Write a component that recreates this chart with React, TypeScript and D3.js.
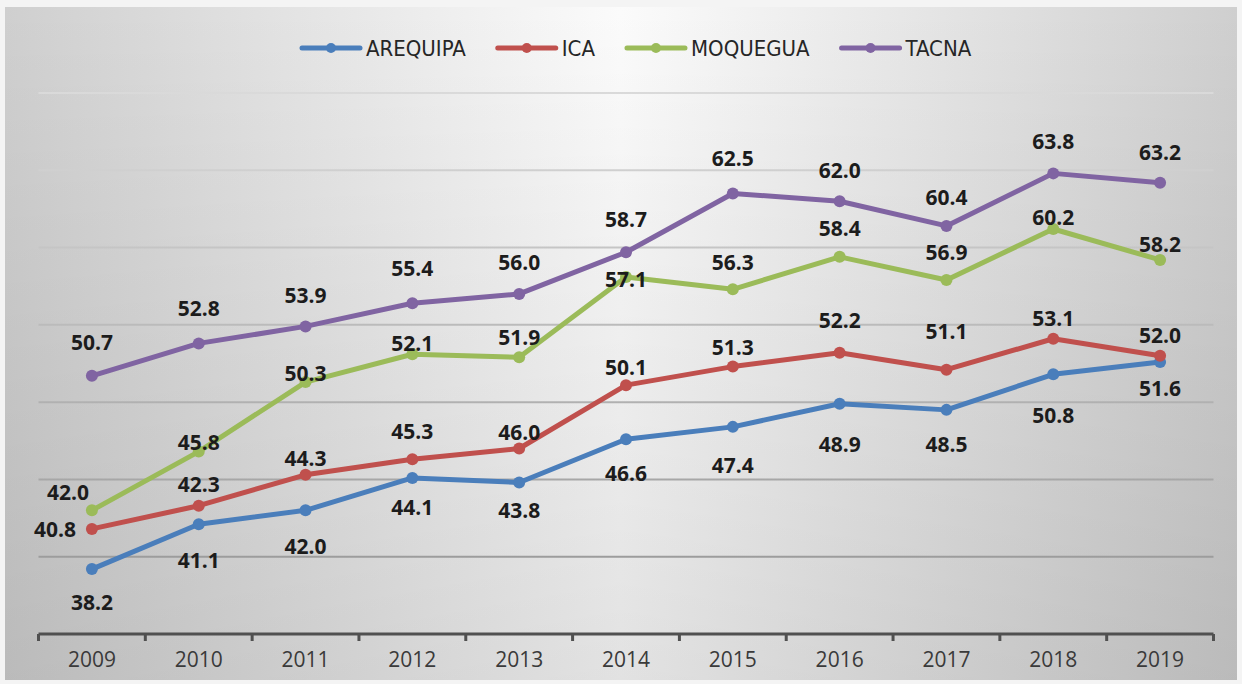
import React, { useRef, useEffect } from "react";
import * as d3 from "d3";

// ---- data ----
const YEARS = ["2009", "2010", "2011", "2012", "2013", "2014", "2015", "2016", "2017", "2018", "2019"];
const AREQUIPA = [38.2, 41.1, 42.0, 44.1, 43.8, 46.6, 47.4, 48.9, 48.5, 50.8, 51.6];
const ICA = [40.8, 42.3, 44.3, 45.3, 46.0, 50.1, 51.3, 52.2, 51.1, 53.1, 52.0];
const MOQUEGUA = [42.0, 45.8, 50.3, 52.1, 51.9, 57.1, 56.3, 58.4, 56.9, 60.2, 58.2];
const TACNA = [50.7, 52.8, 53.9, 55.4, 56.0, 58.7, 62.5, 62.0, 60.4, 63.8, 63.2];
const Y_TICKS = [34, 39, 44, 49, 54, 59, 64, 69];

const SERIES = [
  { name: "AREQUIPA", values: AREQUIPA, color: "#4a7ebb" },
  { name: "ICA", values: ICA, color: "#c0504d" },
  { name: "MOQUEGUA", values: MOQUEGUA, color: "#9bbb59" },
  { name: "TACNA", values: TACNA, color: "#8064a2" },
];

// hand-placed data label nudges (px from the marker), like the dragged Excel labels
const LABEL_DY: Record<string, number[]> = {
  AREQUIPA: [33, 36, 36, 29, 27, 34, 38, 40, 34, 41, 26],
  ICA: [0, -22, -17, -28, -17, -18, -20, -33, -39, -21, -21],
  MOQUEGUA: [-18, -10, -9, -11, -20, 2, -27, -29, -28, -12, -16],
  TACNA: [-34, -35, -31, -35, -32, -33, -35, -31, -29, -32, -31],
};
const LABEL_DX: Record<string, number[]> = {
  ICA: [-37, 0, 0, 0, 0, 0, 0, 0, 0, 0, 0],
  MOQUEGUA: [-24, 0, 0, 0, 0, 0, 0, 0, 0, 0, 0],
};

const W = 1242;
const H = 684;

export default function App() {
  const ref = useRef<SVGSVGElement | null>(null);

  useEffect(() => {
    const svg = d3.select(ref.current);
    svg.selectAll("*").remove();

    const defs = svg.append("defs");
    const hg = defs.append("linearGradient").attr("id", "bgH").attr("x1", 0).attr("x2", 1).attr("y1", 0).attr("y2", 0);
    hg.append("stop").attr("offset", "0%").attr("stop-color", "#cfcfcf");
    hg.append("stop").attr("offset", "50%").attr("stop-color", "#fbfbfb");
    hg.append("stop").attr("offset", "100%").attr("stop-color", "#cfcfcf");
    const vg = defs.append("linearGradient").attr("id", "bgV").attr("x1", 0).attr("x2", 0).attr("y1", 0).attr("y2", 1);
    vg.append("stop").attr("offset", "0%").attr("stop-color", "#000").attr("stop-opacity", 0);
    vg.append("stop").attr("offset", "100%").attr("stop-color", "#000").attr("stop-opacity", 0.1);
    const gg = defs
      .append("linearGradient")
      .attr("id", "gridG")
      .attr("gradientUnits", "userSpaceOnUse")
      .attr("x1", 0).attr("x2", 0).attr("y1", 90).attr("y2", 560);
    gg.append("stop").attr("offset", "0%").attr("stop-color", "#dadada");
    gg.append("stop").attr("offset", "100%").attr("stop-color", "#9c9c9c");

    svg.append("rect").attr("width", W).attr("height", H).attr("fill", "#f4f4f4");
    svg.append("rect").attr("x", 5).attr("y", 7).attr("width", 1232).attr("height", 673).attr("fill", "url(#bgH)");
    svg.append("rect").attr("x", 5).attr("y", 7).attr("width", 1232).attr("height", 673).attr("fill", "url(#bgV)");

    const x = d3.scaleBand().domain(YEARS).range([38.5, 1213.5]);
    const y = d3.scaleLinear().domain([34, 69]).range([634, 93]);
    const cx = (yr: string) => (x(yr) as number) + x.bandwidth() / 2;

    // gridlines
    svg
      .append("g")
      .selectAll("line")
      .data(Y_TICKS.slice(1))
      .join("line")
      .attr("x1", 38.5)
      .attr("x2", 1213.5)
      .attr("y1", (d) => y(d))
      .attr("y2", (d) => y(d))
      .attr("stroke", "url(#gridG)")
      .attr("stroke-width", 2);

    // x axis
    const axis = svg
      .append("g")
      .attr("transform", `translate(0, ${y(34)})`)
      .call(d3.axisBottom(x).tickSize(0).tickPadding(18));
    axis.select(".domain").remove();
    axis
      .selectAll("text")
      .attr("font-family", "'Open Sans', sans-serif")
      .attr("font-size", "21px")
      .attr("fill", "#3a3a3a");
    axis
      .append("line")
      .attr("x1", 38.5)
      .attr("x2", 1213.5)
      .attr("stroke", "#505050")
      .attr("stroke-width", 3);
    axis
      .selectAll("line.tk")
      .data(d3.range(YEARS.length + 1))
      .join("line")
      .attr("class", "tk")
      .attr("x1", (i) => 38.5 + i * x.bandwidth())
      .attr("x2", (i) => 38.5 + i * x.bandwidth())
      .attr("y1", 0)
      .attr("y2", 7)
      .attr("stroke", "#505050")
      .attr("stroke-width", 3);

    const line = d3
      .line<number>()
      .x((_d, i) => cx(YEARS[i]))
      .y((d) => y(d));

    SERIES.forEach((s) => {
      const g = svg.append("g");
      g.append("path")
        .attr("d", line(s.values))
        .attr("fill", "none")
        .attr("stroke", s.color)
        .attr("stroke-width", 5)
        .attr("stroke-linejoin", "round")
        .attr("stroke-linecap", "round");
      g.selectAll("circle")
        .data(s.values)
        .join("circle")
        .attr("cx", (_d, i) => cx(YEARS[i]))
        .attr("cy", (d) => y(d))
        .attr("r", 6)
        .attr("fill", s.color);
    });

    // data labels on top
    SERIES.forEach((s) => {
      const dy = LABEL_DY[s.name];
      const dx = LABEL_DX[s.name] || [];
      svg
        .append("g")
        .selectAll("text")
        .data(s.values)
        .join("text")
        .attr("x", (_d, i) => cx(YEARS[i]) + (dx[i] || 0))
        .attr("y", (d, i) => y(d) + dy[i])
        .attr("text-anchor", "middle")
        .attr("dominant-baseline", "central")
        .attr("font-family", "'Open Sans', sans-serif")
        .attr("font-weight", 700)
        .attr("font-size", "21px")
        .attr("fill", "#1c1c1c")
        .text((d) => d.toFixed(1));
    });

    // legend
    const legend = svg.append("g").attr("transform", "translate(300, 48)");
    let lx = 0;
    SERIES.forEach((s) => {
      const item = legend.append("g").attr("transform", `translate(${lx}, 0)`);
      item.append("line").attr("x1", 2).attr("x2", 60).attr("stroke", s.color).attr("stroke-width", 5).attr("stroke-linecap", "round");
      item.append("circle").attr("cx", 31).attr("r", 5).attr("fill", s.color);
      const t = item
        .append("text")
        .attr("x", 66)
        .attr("dominant-baseline", "central")
        .attr("font-family", "'Liberation Sans Narrow', 'DejaVu Sans Condensed', sans-serif")
        .attr("font-size", "22px")
        .attr("fill", "#262626")
        .text(s.name);
      const tw = (t.node() as SVGTextElement).getComputedTextLength();
      lx += 66 + tw + 30;
    });
  }, []);

  return (
    <svg
      ref={ref}
      width={W}
      height={H}
      style={{ position: "absolute", left: 0, top: 0, display: "block" }}
    />
  );
}
